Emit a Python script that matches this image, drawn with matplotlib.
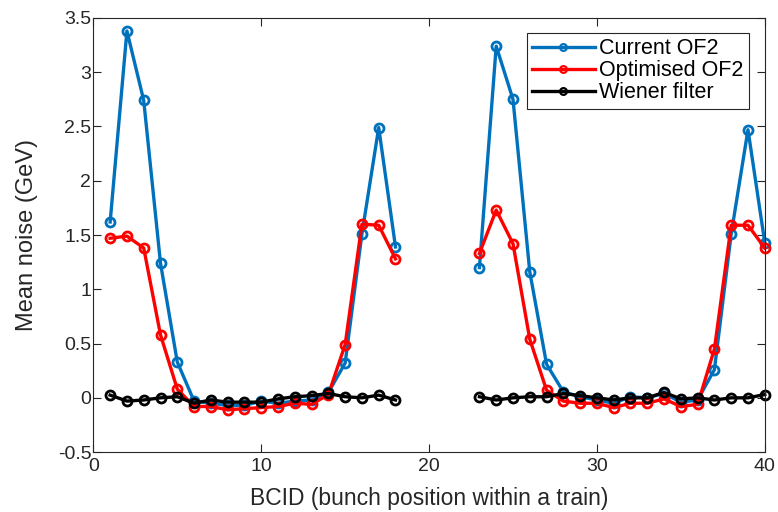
import numpy as np
import matplotlib
matplotlib.use("Agg")
import matplotlib.pyplot as plt

nan = np.nan
bcid = list(range(1, 41))

current_of2 = [1.62, 3.38, 2.74, 1.24, 0.33, -0.03, -0.05, -0.07, -0.07, -0.03,
               -0.05, -0.03, -0.02, 0.05, 0.32, 1.51, 2.49, 1.39,
               nan, nan, nan, nan,
               1.20, 3.24, 2.75, 1.16, 0.31, 0.055, 0.01, -0.02, -0.05, 0.01,
               0.0, 0.04, -0.04, -0.02, 0.26, 1.51, 2.47, 1.43]
optimised_of2 = [1.47, 1.49, 1.38, 0.58, 0.08, -0.08, -0.08, -0.11, -0.10, -0.09,
                 -0.08, -0.05, -0.06, 0.03, 0.49, 1.60, 1.59, 1.28,
                 nan, nan, nan, nan,
                 1.33, 1.73, 1.42, 0.54, 0.07, -0.03, -0.05, -0.05, -0.09, -0.05,
                 -0.05, -0.01, -0.08, -0.06, 0.45, 1.59, 1.59, 1.38]
wiener = [0.025, -0.03, -0.02, 0.0, 0.01, -0.05, -0.02, -0.04, -0.04, -0.04,
          -0.01, 0.01, 0.02, 0.04, 0.01, 0.0, 0.025, -0.02,
          nan, nan, nan, nan,
          0.01, -0.02, 0.0, 0.01, 0.01, 0.04, 0.02, 0.0, -0.02, 0.0,
          0.0, 0.05, -0.01, 0.0, -0.02, 0.0, 0.0, 0.03]

labels = ["Current OF2", "Optimised OF2", "Wiener filter"]
colors = ["#0072BD", "#FF0000", "#000000"]

plt.rcParams['font.family'] = ['Liberation Sans', 'DejaVu Sans']

fig = plt.figure(figsize=(7.78, 5.12), dpi=100)
ax = fig.add_axes([0.120, 0.117, 0.863, 0.848])

for ys, lab, c in zip([current_of2, optimised_of2, wiener], labels, colors):
    ax.plot(bcid, ys, '-o', color=c, lw=2.4, ms=6.5, mfc='none', mew=2.0,
            label=lab, clip_on=False)

ax.set_xlim(0, 40)
ax.set_ylim(-0.5, 3.5)
ax.set_xticks([0, 10, 20, 30, 40])
ax.set_yticks(np.arange(-0.5, 3.51, 0.5))
ax.set_yticklabels(["-0.5", "0", "0.5", "1", "1.5", "2", "2.5", "3", "3.5"])
ax.tick_params(direction='in', top=True, right=True, labelsize=14, length=6,
               width=0.8, colors='#262626', labelcolor='#262626')
ax.tick_params(axis='y', pad=1.5)
ax.tick_params(axis='x', pad=4)
for s in ax.spines.values():
    s.set_color('#262626')
    s.set_linewidth(0.8)
ax.set_xlabel("BCID (bunch position within a train)", fontsize=16.5, color='#262626', labelpad=9)
ax.set_ylabel("Mean noise (GeV)", fontsize=17, color='#262626', labelpad=14)

leg = ax.legend(loc='upper right', bbox_to_anchor=(0.976, 0.966), fontsize=15.5,
                frameon=True, fancybox=False, edgecolor='#262626', framealpha=1,
                handlelength=2.9, borderpad=0.25, labelspacing=0.05, handletextpad=0.2,
                borderaxespad=0, markerscale=0.75)
leg.get_frame().set_linewidth(0.8)
for h in leg.get_lines():
    h.set_markeredgewidth(1.6)

fig.savefig("out.png", dpi=100)
